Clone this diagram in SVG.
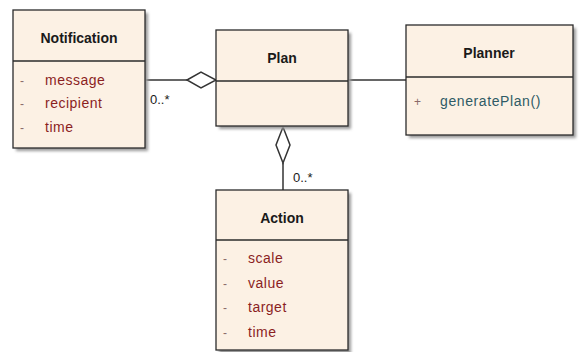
<svg xmlns="http://www.w3.org/2000/svg" width="582" height="352" viewBox="0 0 582 352">
<defs>
<filter id="sh" x="-10%" y="-10%" width="130%" height="130%">
<feGaussianBlur stdDeviation="1.5"/>
</filter>
</defs>
<style>
.box{fill:#fcf1e4;stroke:#2b2b2b;stroke-width:1.3}
.shadow{fill:#9a9a9a;filter:url(#sh)}
.div{stroke:#2b2b2b;stroke-width:1.3}
.title{font-family:"Liberation Sans",Arial,sans-serif;font-size:14px;font-weight:bold;fill:#1a1a1a;text-anchor:middle}
.attr{font-family:"Liberation Sans",Arial,sans-serif;font-size:14px;letter-spacing:0.5px;fill:#8b1f1f}
.op{font-family:"Liberation Sans",Arial,sans-serif;font-size:14px;letter-spacing:0.6px;fill:#2f5b66}
.vis{font-family:"Liberation Sans",Arial,sans-serif;font-size:12px;fill:#8a6a6a}
.mult{font-family:"Liberation Sans",Arial,sans-serif;font-size:13px;fill:#1a1a1a}
.line{stroke:#333;stroke-width:1.5;fill:none}
.dia{fill:#fff;stroke:#333;stroke-width:1.5}
</style>
<rect width="582" height="352" fill="#fff"/>
<g id="connectors">
<line class="line" x1="145" y1="80" x2="187" y2="80"/>
<polygon class="dia" points="187,80 201,72 216,80 201,88"/>
<line class="line" x1="348" y1="80" x2="406" y2="80"/>
<line class="line" x1="283" y1="163" x2="283" y2="190"/>
<polygon class="dia" points="283,127 290,145 283,163 276,145"/>
</g>
<g id="notification">
<rect class="shadow" x="16" y="13" width="132" height="138"/>
<rect class="box" x="13" y="10" width="132" height="138"/>
<line class="div" x1="13" y1="61" x2="145" y2="61"/>
<text class="title" x="79" y="43">Notification</text>
<text class="vis" x="20" y="85">-</text><text class="attr" x="45" y="85">message</text>
<text class="vis" x="20" y="108">-</text><text class="attr" x="45" y="108">recipient</text>
<text class="vis" x="20" y="132">-</text><text class="attr" x="45" y="132">time</text>
<text class="mult" x="150" y="104">0..*</text>
</g>
<g id="plan">
<rect class="shadow" x="219" y="33" width="132" height="96"/>
<rect class="box" x="216" y="30" width="132" height="96"/>
<line class="div" x1="216" y1="81" x2="348" y2="81"/>
<text class="title" x="282" y="63">Plan</text>
</g>
<g id="planner">
<rect class="shadow" x="409" y="28" width="167" height="110"/>
<rect class="box" x="406" y="25" width="167" height="110"/>
<line class="div" x1="406" y1="77" x2="573" y2="77"/>
<text class="title" x="489" y="58">Planner</text>
<text class="vis" x="414" y="106">+</text><text class="op" x="440" y="106">generatePlan()</text>
</g>
<g id="action">
<rect class="shadow" x="219" y="193" width="132" height="162"/>
<rect class="box" x="216" y="190" width="132" height="160"/>
<line class="div" x1="216" y1="240" x2="348" y2="240"/>
<text class="title" x="282" y="223">Action</text>
<text class="vis" x="223" y="263">-</text><text class="attr" x="248" y="263">scale</text>
<text class="vis" x="223" y="288">-</text><text class="attr" x="248" y="288">value</text>
<text class="vis" x="223" y="312">-</text><text class="attr" x="248" y="312">target</text>
<text class="vis" x="223" y="337">-</text><text class="attr" x="248" y="337">time</text>
<text class="mult" x="293" y="182">0..*</text>
</g>
</svg>
